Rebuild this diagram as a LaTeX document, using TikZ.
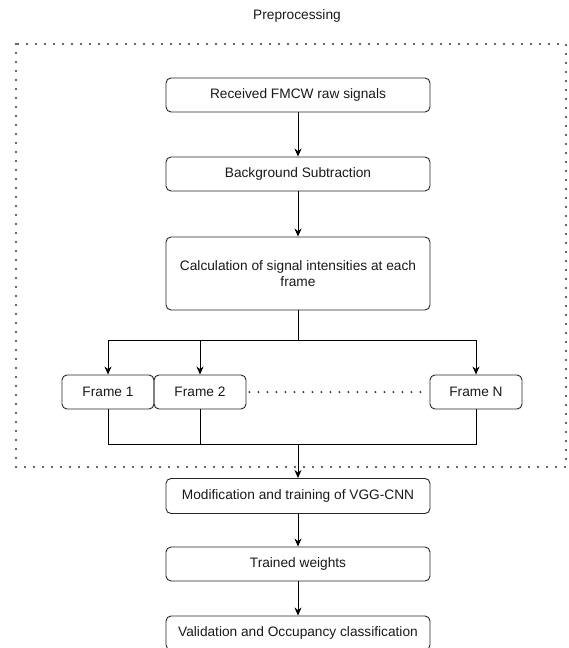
\documentclass[tikz,border=0pt]{standalone}
\usepackage{fontspec}
\setmainfont{Liberation Sans}
\usetikzlibrary{arrows.meta}
\begin{document}
\begin{tikzpicture}[x=1pt,y=-1pt,
  every node/.style={font=\fontsize{13.7}{16}\selectfont, text=black!90},
  mainbox/.style={draw=black!85, line width=0.9pt, rounded corners=5pt, minimum width=264pt, minimum height=34pt, inner sep=0pt, align=center},
  framebox/.style={draw=black!85, line width=0.9pt, rounded corners=5pt, minimum width=92pt, minimum height=34pt, inner sep=0pt},
  conn/.style={draw=black, line width=0.9pt},
  arr/.style={conn, -{Stealth[length=8pt,width=7pt,inset=2.5pt]}},
  dotline/.style={draw=black!80, line width=2.1pt, line cap=round, dash pattern=on 0pt off 9pt}
]
\useasboundingbox (0,0) rectangle (568,648);
\node (pre) at (297,16) {Preprocessing};
\draw[dotline] (16,44) rectangle (566,467);
\node[mainbox] (b1) at (298,95) {Received FMCW raw signals};
\node[mainbox] (b2) at (298,174) {Background Subtraction};
\node[mainbox, minimum height=73pt] (b3) at (298,273.5) {Calculation of signal intensities at each\\frame};
\node[framebox] (f1) at (108,392) {Frame 1};
\node[framebox] (f2) at (200,392) {Frame 2};
\node[framebox] (fn) at (476,392) {Frame N};
\node[mainbox, minimum height=35pt] (b4) at (298,496) {Modification and training of VGG-CNN};
\node[mainbox] (b5) at (298,564) {Trained weights};
\node[mainbox] (b6) at (298,633) {Validation and Occupancy classification};
\coordinate (split) at (298,340);
\coordinate (join) at (298,444);
\draw[arr] (b1) -- (b2);
\draw[arr] (b2) -- (b3);
\draw[conn] (b3.south) -- (split);
\draw[arr] (split) -| (f1.north);
\draw[arr] (split) -| (f2.north);
\draw[arr] (split) -| (fn.north);
\draw[dotline] ([xshift=3pt]f2.east) -- ([xshift=-5pt]fn.west);
\draw[conn] (f1.south) |- (join);
\draw[conn] (f2.south) |- (join);
\draw[conn] (fn.south) |- (join);
\draw[arr] (join) -- (b4.north);
\draw[arr] (b4) -- (b5);
\draw[arr] (b5) -- (b6);
\end{tikzpicture}
\end{document}
